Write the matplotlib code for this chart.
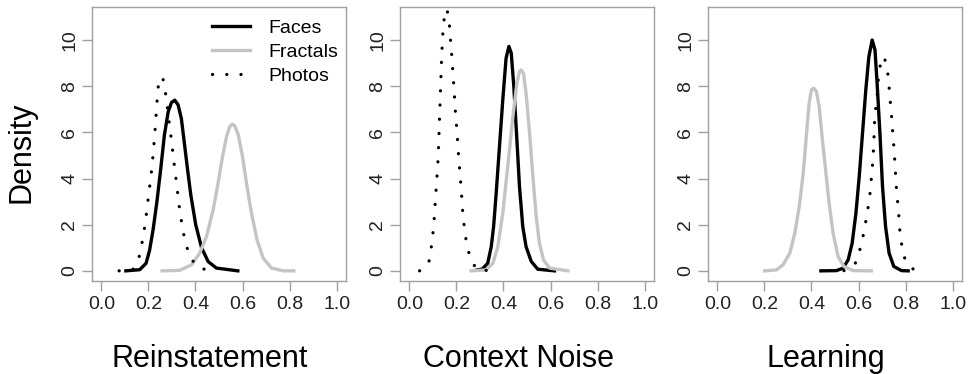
import matplotlib
matplotlib.use('Agg')
import matplotlib.pyplot as plt

plt.rcParams['font.family'] = ['Liberation Sans', 'DejaVu Sans']

# 读图得到的密度曲线 (x, density)
# Reinstatement
rein_faces_x = [0.104, 0.163, 0.19, 0.205, 0.22, 0.236, 0.252, 0.268, 0.284, 0.298, 0.312, 0.326, 0.34, 0.352, 0.365, 0.38, 0.401, 0.426, 0.454, 0.489, 0.58]
rein_faces_y = [0, 0.05, 0.33, 0.9, 1.8, 3.0, 4.4, 5.9, 6.9, 7.3, 7.4, 7.2, 6.6, 5.6, 4.5, 3.3, 2.0, 1.0, 0.4, 0.12, 0]
rein_fractals_x = [0.258, 0.333, 0.383, 0.418, 0.447, 0.475, 0.496, 0.515, 0.532, 0.546, 0.556, 0.567, 0.582, 0.6, 0.617, 0.638, 0.662, 0.688, 0.723, 0.773, 0.818]
rein_fractals_y = [0, 0.02, 0.26, 0.77, 1.49, 2.64, 3.8, 4.96, 5.82, 6.26, 6.36, 6.29, 5.9, 4.96, 3.8, 2.5, 1.34, 0.55, 0.12, 0, 0]
rein_photos_x = [0.075, 0.135, 0.16, 0.172, 0.182, 0.19, 0.197, 0.204, 0.211, 0.217, 0.222, 0.227, 0.231, 0.235, 0.239, 0.245, 0.253, 0.262, 0.272, 0.28, 0.287, 0.294, 0.301, 0.308, 0.315, 0.322, 0.328, 0.336, 0.345, 0.356, 0.375, 0.404, 0.458]
rein_photos_y = [0, 0.07, 0.59, 1.17, 1.78, 2.36, 2.98, 3.55, 4.13, 4.74, 5.32, 5.91, 6.52, 7.12, 7.7, 8.32, 8.4, 8.32, 7.75, 7.12, 6.52, 5.97, 5.39, 4.74, 4.16, 3.58, 3.01, 2.43, 1.85, 1.27, 0.65, 0.19, 0]

# Context Noise
noise_faces_x = [0.285, 0.31, 0.333, 0.348, 0.358, 0.369, 0.383, 0.397, 0.411, 0.423, 0.433, 0.444, 0.457, 0.468, 0.482, 0.496, 0.518, 0.546, 0.617]
noise_faces_y = [0.03, 0.08, 0.33, 1.05, 1.92, 3.37, 5.39, 7.41, 9.22, 9.73, 9.44, 7.99, 5.68, 3.66, 1.92, 1.05, 0.41, 0.07, 0]
noise_fractals_x = [0.262, 0.326, 0.355, 0.376, 0.397, 0.418, 0.44, 0.457, 0.468, 0.475, 0.485, 0.496, 0.511, 0.525, 0.539, 0.553, 0.57, 0.596, 0.674]
noise_fractals_y = [0, 0.04, 0.33, 1.05, 2.5, 4.52, 6.69, 8.14, 8.64, 8.71, 8.57, 7.7, 5.97, 4.09, 2.36, 1.2, 0.48, 0.12, 0]
noise_photos_x = [0.043, 0.082, 0.092, 0.099, 0.104, 0.108, 0.112, 0.116, 0.12, 0.123, 0.125, 0.127, 0.129, 0.131, 0.133, 0.135, 0.137, 0.14, 0.143, 0.149, 0.16, 0.17, 0.174, 0.179, 0.183, 0.187, 0.191, 0.194, 0.199, 0.203, 0.207, 0.211, 0.216, 0.22, 0.224, 0.228, 0.235, 0.243, 0.258, 0.285, 0.348]
noise_photos_y = [0, 0.33, 0.94, 1.52, 2.04, 2.67, 3.29, 3.9, 4.48, 5.1, 5.68, 6.29, 6.88, 7.47, 8.08, 8.67, 9.26, 9.85, 10.46, 11.05, 11.35, 10.68, 10.09, 9.49, 8.89, 8.29, 7.7, 7.1, 6.47, 5.9, 5.32, 4.71, 4.13, 3.55, 2.96, 2.36, 1.78, 1.17, 0.59, 0.06, 0]

# Learning
learn_faces_x = [0.44, 0.506, 0.535, 0.556, 0.573, 0.589, 0.603, 0.617, 0.631, 0.644, 0.658, 0.67, 0.679, 0.691, 0.702, 0.715, 0.73, 0.75, 0.783, 0.811]
learn_faces_y = [0, 0.01, 0.12, 0.48, 1.2, 2.5, 4.09, 5.97, 7.85, 9.29, 10.01, 9.58, 8.14, 5.97, 3.66, 1.92, 0.77, 0.19, 0.01, 0]
learn_fractals_x = [0.201, 0.251, 0.279, 0.308, 0.329, 0.348, 0.365, 0.379, 0.39, 0.4, 0.41, 0.421, 0.433, 0.445, 0.46, 0.475, 0.492, 0.513, 0.538, 0.577, 0.655]
learn_fractals_y = [0, 0.04, 0.26, 0.77, 1.63, 2.79, 4.23, 5.97, 7.27, 7.85, 7.92, 7.77, 7.12, 5.82, 4.38, 2.93, 1.63, 0.62, 0.19, 0.01, 0]
learn_photos_x = [0.538, 0.584, 0.603, 0.617, 0.628, 0.638, 0.647, 0.652, 0.658, 0.662, 0.665, 0.669, 0.677, 0.686, 0.695, 0.709, 0.723, 0.729, 0.733, 0.739, 0.743, 0.748, 0.752, 0.756, 0.759, 0.763, 0.769, 0.773, 0.777, 0.786, 0.8, 0.84]
learn_photos_y = [0.01, 0.26, 0.81, 1.38, 1.97, 2.57, 3.15, 3.73, 4.38, 4.96, 5.53, 6.72, 7.34, 8.52, 9.07, 9.29, 8.71, 8.12, 7.53, 6.95, 6.29, 5.71, 5.1, 4.51, 3.9, 3.32, 2.72, 2.13, 1.56, 0.98, 0.4, 0]

panel_names = ['Reinstatement', 'Context Noise', 'Learning']
series_names = ['Faces', 'Fractals', 'Photos']
x_ticks = [0.0, 0.2, 0.4, 0.6, 0.8, 1.0]
y_ticks = [0, 2, 4, 6, 8, 10]

panels = [
    [(rein_faces_x, rein_faces_y), (rein_fractals_x, rein_fractals_y), (rein_photos_x, rein_photos_y)],
    [(noise_faces_x, noise_faces_y), (noise_fractals_x, noise_fractals_y), (noise_photos_x, noise_photos_y)],
    [(learn_faces_x, learn_faces_y), (learn_fractals_x, learn_fractals_y), (learn_photos_x, learn_photos_y)],
]

W, H = 974, 374
fig = plt.figure(figsize=(W / 100, H / 100), dpi=100)
lefts = [92, 400, 708]
box_w, box_top, box_bot = 254, 7, 281
grey = '#a0a0a0'

styles = [
    dict(color='black', lw=2.4, ls='-'),
    dict(color='#c4c4c4', lw=2.4, ls='-'),
    dict(color='black', lw=2.3, ls=(0, (0.05, 4.4)), dash_capstyle='round'),
]

for i in range(3):
    ax = fig.add_axes([lefts[i] / W, 1 - box_bot / H, box_w / W, (box_bot - box_top) / H])
    for j in range(3):
        xs, ys = panels[i][j]
        ax.plot(xs, ys, label=series_names[j], **styles[j])
    ax.set_xlim(-0.04, 1.04)
    ax.set_ylim(-0.44, 11.44)
    ax.set_xticks(x_ticks)
    ax.set_xticklabels(['%.1f' % t for t in x_ticks])
    ax.set_yticks(y_ticks)
    ax.tick_params(length=7, width=1, color=grey, labelcolor='#222222', labelsize=14)
    ax.tick_params(axis='x', pad=4)
    ax.tick_params(axis='y', pad=3)
    for lab in ax.get_yticklabels():
        lab.set_rotation(90)
        lab.set_va('center')
    for s in ax.spines.values():
        s.set_color(grey)
        s.set_linewidth(1)
    ax.set_xlabel(panel_names[i], fontsize=22, va='baseline')
    ax.xaxis.set_label_coords(0.465, -0.314)
    if i == 0:
        ax.set_ylabel('Density', fontsize=22, va='center')
        ax.yaxis.set_label_coords(-0.276, 0.469)
        ax.legend(loc='upper left', bbox_to_anchor=(0.471, 0.955), frameon=False,
                  borderpad=0, borderaxespad=0, fontsize=14, handlelength=1.95,
                  handletextpad=0.95, labelspacing=0.32)

plt.savefig('out.png', dpi=100)
